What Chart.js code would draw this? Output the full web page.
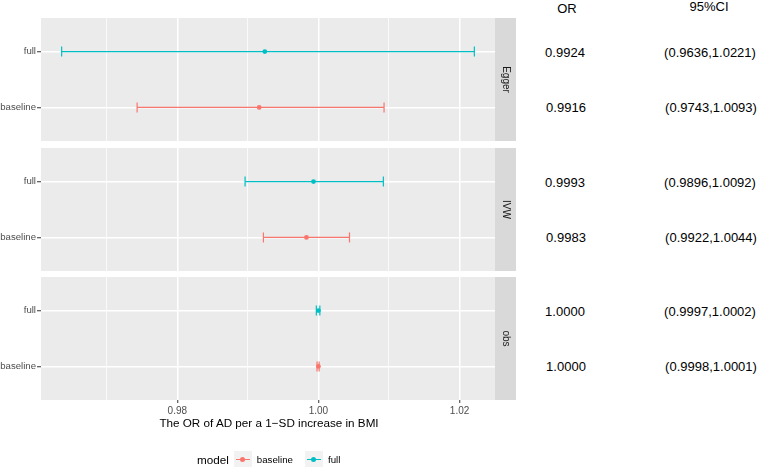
<!DOCTYPE html>
<html>
<head>
<meta charset="utf-8">
<script src="https://cdn.jsdelivr.net/npm/chart.js@4.4.1/dist/chart.umd.min.js"></script>
<style>
  body { margin: 0; background: #fff; font-family: "Liberation Sans", Arial, sans-serif; }
  #wrap { position: relative; width: 758px; height: 467px; overflow: hidden; }
  #wrap canvas { position: absolute; left: 0; }
  .txt { position: absolute; white-space: nowrap; transform: translate(-50%, -50%); line-height: 1; }
  #xtitle { position: absolute; left: 269px; top: 423px; font-size: 11.7px; color: #000; }
  #legend { position: absolute; left: 197px; top: 450px; height: 18px; display: flex; align-items: center; }
  #legend .lt { font-size: 11.7px; margin-right: 5px; }
  #legend .key { position: relative; width: 18px; height: 17px; background: #F2F2F2; margin-right: 5px; }
  #legend .key .ln { position: absolute; left: 2px; right: 2px; top: 8px; height: 1.2px; }
  #legend .key .dt { position: absolute; left: 6.5px; top: 6px; width: 5px; height: 5px; border-radius: 50%; }
  #legend .lab { font-size: 9.7px; color: #000; margin-right: 12px; }
</style>
</head>
<body>
<div id="wrap">
  <canvas id="p0" width="516" height="123"></canvas>
  <canvas id="p1" width="516" height="123"></canvas>
  <canvas id="p2" width="516" height="143"></canvas>
  <div id="xtitle" class="txt">The OR of AD per a 1&minus;SD increase in BMI</div>
  <div id="legend"></div>
</div>
<script>
// data
const methods = ["Egger", "IVW", "obs"];
const models = ["baseline", "full"];
const orBaseline = [0.9916, 0.9983, 1.0000];
const loBaseline = [0.9743, 0.9922, 0.9998];
const hiBaseline = [1.0093, 1.0044, 1.0001];
const orFull = [0.9924, 0.9993, 1.0000];
const loFull = [0.9636, 0.9896, 0.9997];
const hiFull = [1.0221, 1.0092, 1.0002];
const majorTicks = [0.98, 1.00, 1.02];
const minorTicks = [0.97, 0.99, 1.01];

const colors = { baseline: "#F8766D", full: "#00BFC4" };
const panelTops = [18, 148, 277];
const panelH = 123;

// x range like ggplot: 5% expansion of the data range
const allLo = Math.min(...loBaseline, ...loFull);
const allHi = Math.max(...hiBaseline, ...hiFull);
const pad = (allHi - allLo) * 0.05;
const xMin = allLo - pad, xMax = allHi + pad;
const xTicks = [...majorTicks, ...minorTicks].sort((a, b) => a - b);
const isMajor = v => majorTicks.includes(v);

// grey panel + facet strip on the right
const panelBg = {
  id: "panelBg",
  beforeDraw(chart, args, opts) {
    const { ctx, chartArea: a } = chart;
    ctx.save();
    ctx.fillStyle = "#EBEBEB";
    ctx.fillRect(a.left, a.top, a.right - a.left, a.bottom - a.top);
    ctx.fillStyle = "#D9D9D9";
    ctx.fillRect(a.right, a.top, 21, a.bottom - a.top);
    ctx.translate(a.right + 10.5, (a.top + a.bottom) / 2);
    ctx.rotate(Math.PI / 2);
    ctx.fillStyle = "#1A1A1A";
    ctx.font = '10px "Liberation Sans", Arial';
    ctx.textAlign = "center";
    ctx.textBaseline = "middle";
    ctx.fillText(opts.label, 0, 0);
    ctx.restore();
  }
};

function makePanel(i) {
  const last = i === methods.length - 1;
  const rows = [
    { name: "baseline", y: 1, or: orBaseline[i], lo: loBaseline[i], hi: hiBaseline[i] },
    { name: "full", y: 2, or: orFull[i], lo: loFull[i], hi: hiFull[i] }
  ];
  const datasets = [];
  rows.forEach(r => {
    datasets.push({
      showLine: true,
      data: [{ x: r.lo, y: r.y }, { x: r.hi, y: r.y }],
      borderColor: colors[r.name],
      borderWidth: 1.2,
      pointStyle: "line",
      pointRotation: 90,
      pointRadius: 5,
      pointBorderWidth: 1.2,
      pointBorderColor: colors[r.name]
    });
    datasets.push({
      data: [{ x: r.or, y: r.y }],
      pointStyle: "circle",
      pointRadius: 2.4,
      borderWidth: 0,
      backgroundColor: colors[r.name]
    });
  });

  const canvas = document.getElementById("p" + i);
  canvas.style.top = panelTops[i] + "px";

  new Chart(canvas, {
    type: "scatter",
    data: { datasets },
    plugins: [panelBg],
    options: {
      responsive: false,
      animation: false,
      events: [],
      layout: { autoPadding: false, padding: { left: 0, right: 21, top: 0, bottom: 0 } },
      plugins: {
        legend: { display: false },
        tooltip: { enabled: false },
        panelBg: { label: methods[i] }
      },
      scales: {
        x: {
          type: "linear",
          min: xMin,
          max: xMax,
          border: { display: false },
          afterBuildTicks: s => { s.ticks = xTicks.map(v => ({ value: v })); },
          afterFit: s => {
            s.height = last ? 20 : 0;
            s.paddingLeft = 0; s.paddingRight = 0;
          },
          grid: {
            color: "#FFFFFF",
            lineWidth: c => (c.tick && isMajor(c.tick.value)) ? 1.5 : 0.75,
            drawTicks: last,
            tickLength: 3,
            tickWidth: 1,
            tickColor: c => (c.tick && isMajor(c.tick.value)) ? "#333333" : "rgba(0,0,0,0)"
          },
          ticks: {
            display: last,
            autoSkip: false,
            maxRotation: 0,
            padding: 2,
            color: "#4D4D4D",
            font: { family: '"Liberation Sans", Arial', size: 10 },
            callback: v => isMajor(v) ? v.toFixed(2) : ""
          }
        },
        y: {
          type: "linear",
          min: 0.4,
          max: 2.6,
          border: { display: false },
          afterBuildTicks: s => { s.ticks = [{ value: 1 }, { value: 2 }]; },
          afterFit: s => {
            s.width = 41;
            s.paddingTop = 0; s.paddingBottom = 0;
          },
          grid: {
            color: "#FFFFFF",
            lineWidth: 1.5,
            tickLength: 4,
            tickWidth: 1,
            tickColor: "#333333"
          },
          ticks: {
            padding: 1,
            color: "#4D4D4D",
            font: { family: '"Liberation Sans", Arial', size: 9.6 },
            callback: v => models[v - 1]
          }
        }
      }
    }
  });
}

methods.forEach((m, i) => makePanel(i));

// OR / 95%CI table on the right
const wrap = document.getElementById("wrap");
function addText(str, x, y, size) {
  const d = document.createElement("div");
  d.className = "txt";
  d.textContent = str;
  d.style.left = x + "px";
  d.style.top = y + "px";
  d.style.fontSize = size + "px";
  d.style.color = "#000";
  wrap.appendChild(d);
}
addText("OR", 567, 8, 13);
addText("95%CI", 709, 6, 13);
methods.forEach((m, i) => {
  const yFull = panelTops[i] + panelH * 0.6 / 2.2;
  const yBase = panelTops[i] + panelH * 1.6 / 2.2;
  addText(orFull[i].toFixed(4), 565, yFull, 13);
  addText("(" + loFull[i].toFixed(4) + "," + hiFull[i].toFixed(4) + ")", 710, yFull, 13);
  addText(orBaseline[i].toFixed(4), 566, yBase, 13);
  addText("(" + loBaseline[i].toFixed(4) + "," + hiBaseline[i].toFixed(4) + ")", 711, yBase, 13);
});

// legend
const legend = document.getElementById("legend");
legend.innerHTML = '<span class="lt">model</span>' + models.map(m =>
  '<span class="key"><span class="ln" style="background:' + colors[m] + '"></span>' +
  '<span class="dt" style="background:' + colors[m] + '"></span></span>' +
  '<span class="lab">' + m + '</span>').join("");
</script>
</body>
</html>
